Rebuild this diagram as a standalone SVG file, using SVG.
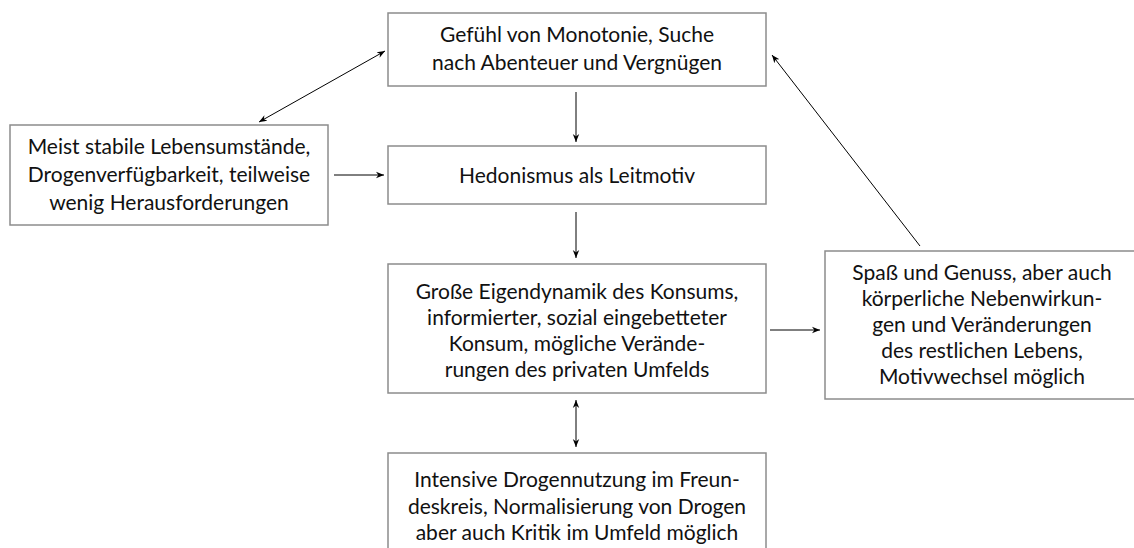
<svg xmlns="http://www.w3.org/2000/svg" width="1134" height="548" viewBox="0 0 1134 548">
<defs>
<style>
.box{fill:#fff;stroke:#8c8c8c;stroke-width:1.5}
.t{font-family:Lato,"Open Sans","Liberation Sans",sans-serif;font-size:21px;fill:#111;text-anchor:middle}
.c{stroke:#000;stroke-width:1;fill:none}
</style>
<marker id="ah" viewBox="0 0 10 10" refX="10" refY="5" markerWidth="8" markerHeight="8" orient="auto-start-reverse" markerUnits="userSpaceOnUse">
<path d="M0,1 L10,5 L0,9 L3,5 Z" fill="#000"/>
</marker>
</defs>
<rect width="1134" height="548" fill="#fff"/>
<g id="n1">
<rect class="box" x="388" y="13" width="378" height="73"/>
<text class="t" x="577" y="42">Gefühl von Monotonie, Suche</text>
<text class="t" x="577" y="70">nach Abenteuer und Vergnügen</text>
</g>
<g id="n2">
<rect class="box" x="10" y="125" width="318" height="100"/>
<text class="t" x="169" y="154">Meist stabile Lebensumstände,</text>
<text class="t" x="169" y="182">Drogenverfügbarkeit, teilweise</text>
<text class="t" x="169" y="210">wenig Herausforderungen</text>
</g>
<g id="n3">
<rect class="box" x="388" y="146" width="378" height="58"/>
<text class="t" x="577" y="183">Hedonismus als Leitmotiv</text>
</g>
<g id="n4">
<rect class="box" x="388" y="264" width="378" height="129"/>
<text class="t" x="577" y="299">Große Eigendynamik des Konsums,</text>
<text class="t" x="577" y="325">informierter, sozial eingebetteter</text>
<text class="t" x="577" y="351">Konsum, mögliche Verände-</text>
<text class="t" x="577" y="377">rungen des privaten Umfelds</text>
</g>
<g id="n5">
<rect class="box" x="825" y="251" width="320" height="148"/>
<text class="t" x="982" y="280">Spaß und Genuss, aber auch</text>
<text class="t" x="982" y="306">körperliche Nebenwirkun-</text>
<text class="t" x="982" y="332">gen und Veränderungen</text>
<text class="t" x="982" y="358">des restlichen Lebens,</text>
<text class="t" x="982" y="384">Motivwechsel möglich</text>
</g>
<g id="n6">
<rect class="box" x="388" y="453" width="378" height="100"/>
<text class="t" x="577" y="487">Intensive Drogennutzung im Freun-</text>
<text class="t" x="577" y="514">deskreis, Normalisierung von Drogen</text>
<text class="t" x="577" y="540">aber auch Kritik im Umfeld möglich</text>
</g>
<g id="connectors">
<line class="c" x1="385" y1="51" x2="259" y2="122" marker-start="url(#ah)" marker-end="url(#ah)"/>
<line class="c" x1="576" y1="92" x2="576" y2="142" marker-end="url(#ah)"/>
<line class="c" x1="334" y1="175" x2="384" y2="175" marker-end="url(#ah)"/>
<line class="c" x1="576" y1="212" x2="576" y2="258" marker-end="url(#ah)"/>
<line class="c" x1="576" y1="400" x2="576" y2="447" marker-start="url(#ah)" marker-end="url(#ah)"/>
<line class="c" x1="770" y1="330" x2="820" y2="330" marker-end="url(#ah)"/>
<line class="c" x1="920" y1="246" x2="772" y2="55" marker-end="url(#ah)"/>
</g>
</svg>
